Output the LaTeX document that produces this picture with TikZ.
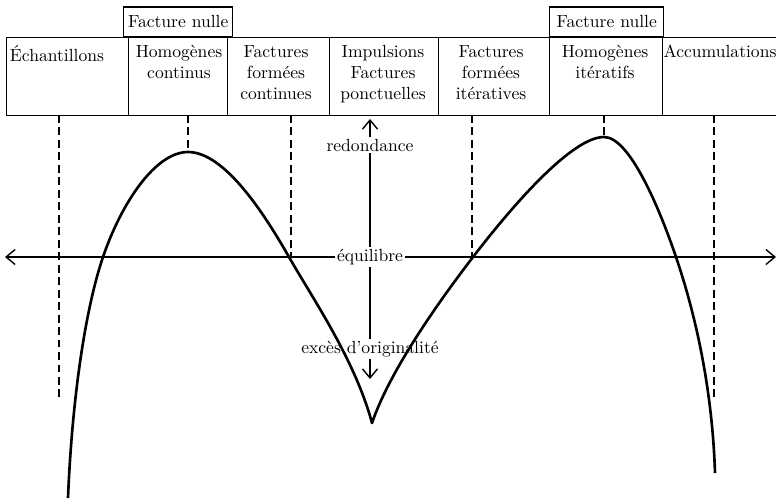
\documentclass[tikz,border=0pt]{standalone}
\usepackage{tikz}
\usetikzlibrary{arrows.meta,positioning}
\begin{document}
\begin{tikzpicture}[x=0.02cm,y=-0.02cm,
      cell/.style={draw,line width=0.8pt,anchor=north west,
                   minimum height=1.56cm,inner sep=0pt},
      tag/.style={draw,line width=0.8pt,anchor=south west,
                  minimum height=0.59cm,inner sep=0pt},
      txt/.style={anchor=north,align=center,inner sep=0pt},
      guide/.style={line width=0.9pt,dash pattern=on 4.5pt off 2.6pt},
      curve/.style={line width=1.5pt,line join=round},
      flow/.style={-{Straight Barb[length=1.8mm,width=3mm]},line width=0.8pt}]
    \useasboundingbox (0,0) rectangle (776,498);
    % rangée des catégories
    \node[cell,minimum width=2.44cm] (c1) at (6,37) {};
    \node[cell,minimum width=1.98cm] (c2) at (128,37) {};
    \node[cell,minimum width=2.04cm] (c3) at (227,37) {};
    \node[cell,minimum width=2.18cm] (c4) at (329,37) {};
    \node[cell,minimum width=2.22cm] (c5) at (438,37) {};
    \node[cell,minimum width=2.26cm] (c6) at (549,37) {};
    \node[cell,minimum width=2.90cm] (c7) at (662,37) {};
    \node[tag,minimum width=2.18cm] (nulle1) at (123,37) {Facture nulle};
    \node[tag,minimum width=2.28cm] (nulle2) at (549,37) {Facture nulle};
    \node[txt] (t1) at (57,45) {Échantillons};
    \node[txt] (t2) at (179,45) {Homogènes\\continus};
    \node[txt] (t3) at (276,45) {Factures\\formées\\continues};
    \node[txt] (t4) at (383,45) {Impulsions\\Factures\\ponctuelles};
    \node[txt] (t5) at (491,45) {Factures\\formées\\itératives};
    \node[txt] (t6) at (605,45) {Homogènes\\itératifs};
    \node[txt] (t7) at (720,45) {Accumulations};
    % axe horizontal et axe vertical
    \node[fill=white,inner sep=1pt] (equil) at (370,257) {équilibre};
    \node[inner sep=1pt] (redond) at (370,145) {redondance};
    \node[inner sep=1pt] (exces) at (370,349) {excès d'originalité};
    \coordinate (west) at (5,257);
    \coordinate (east) at (776,257);
    \coordinate (top) at (370,119);
    \coordinate (bottom) at (370,379);
    \draw[flow] (equil) -- (west);
    \draw[flow] (equil) -- (east);
    \draw[flow] (redond) -- (top);
    \draw[line width=0.8pt] (redond) -- (equil);
    \draw[line width=0.8pt] (equil) -- (exces);
    \draw[flow] (exces) -- (bottom);
    % repères pointillés
    \draw[guide] (59,115) -- (59,400);
    \draw[guide] (188,115) -- (188,152);
    \draw[guide] (291,115) -- (291,257);
    \draw[guide] (472,115) -- (472,257);
    \draw[guide] (604,115) -- (604,137);
    \draw[guide] (714,115) -- (714,400);
    % courbe
    \draw[curve] (68,498) .. controls (72,400) and (85,310) .. (103,257)
      .. controls (121,204) and (155,152) .. (188,152)
      .. controls (225,152) and (265,215) .. (289,257)
      .. controls (313,299) and (355,360) .. (372,423)
      .. controls (390,370) and (440,300) .. (473,257)
      .. controls (506,214) and (570,137) .. (604,137)
      .. controls (630,137) and (660,210) .. (676,257)
      .. controls (692,304) and (712,380) .. (715,473);
  \end{tikzpicture}
\end{document}
